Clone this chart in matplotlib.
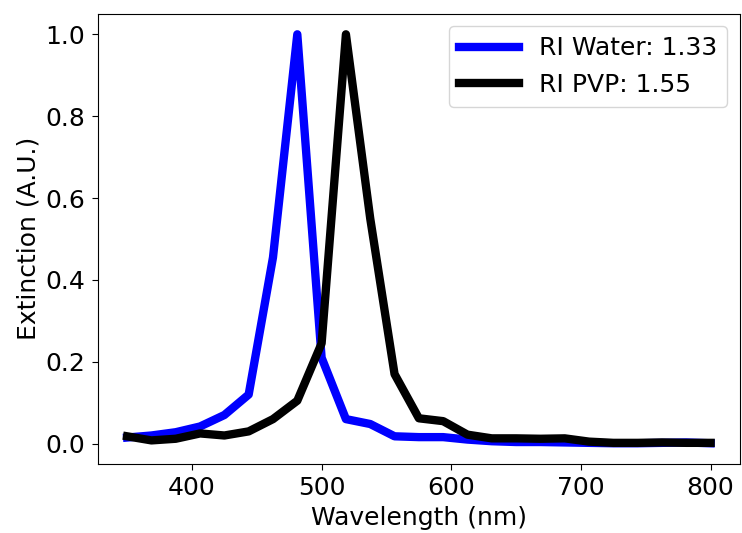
import matplotlib
matplotlib.use("Agg")
import matplotlib.pyplot as plt
import numpy as np

# wavelength grid (nm)
wavelength = np.linspace(350, 800, 25)

# normalised extinction spectra
ext_water = [0.015, 0.020, 0.028, 0.042, 0.070, 0.120, 0.455, 1.000, 0.210, 0.060,
             0.048, 0.018, 0.016, 0.016, 0.010, 0.006, 0.004, 0.004, 0.003, 0.002,
             0.001, 0.001, 0.002, 0.003, 0.001]
ext_pvp = [0.018, 0.008, 0.012, 0.025, 0.020, 0.030, 0.060, 0.105, 0.245, 1.000,
           0.550, 0.170, 0.062, 0.055, 0.022, 0.013, 0.013, 0.012, 0.013, 0.005,
           0.002, 0.002, 0.003, 0.002, 0.002]

labels = ["RI Water: 1.33", "RI PVP: 1.55"]

plt.rcParams["font.size"] = 18

fig, ax = plt.subplots(figsize=(7.42, 5.33), dpi=100)
ax.plot(wavelength, ext_water, color="blue", lw=6, label=labels[0])
ax.plot(wavelength, ext_pvp, color="black", lw=6, label=labels[1])

ax.set_xlabel("Wavelength (nm)")
ax.set_ylabel("Extinction (A.U.)")
ax.tick_params(length=4.5, pad=4.5)
ax.legend(loc="upper right", handlelength=2.4)

fig.subplots_adjust(left=0.132, right=0.997, top=0.974, bottom=0.13)
fig.savefig("out.png")
